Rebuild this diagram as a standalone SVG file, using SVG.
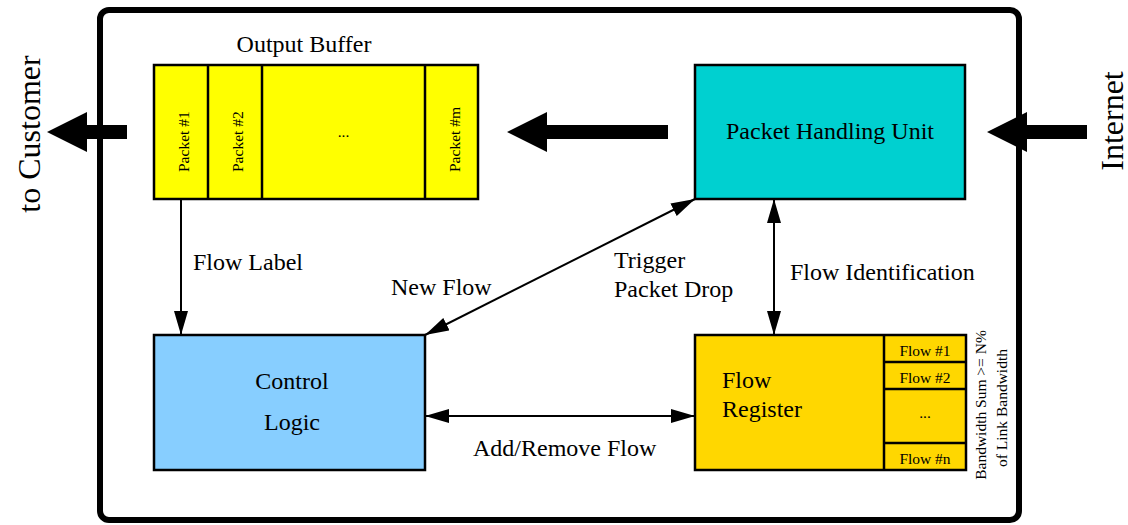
<svg xmlns="http://www.w3.org/2000/svg" width="1128" height="525" viewBox="0 0 1128 525">
  <style>
    text { font-family: "Liberation Serif", "Times New Roman", serif; fill: #000; }
    .lbl { font-size: 24px; }
    .sm { font-size: 15.5px; }
    .big { font-size: 32px; }
    .box { stroke: #000; stroke-width: 2.5; }
    .div { stroke: #000; stroke-width: 2.5; fill: none; }
    .conn { stroke: #000; stroke-width: 2; fill: none; }
  </style>
  <defs>
    <marker id="head" viewBox="0 0 24 14" refX="24" refY="7" markerWidth="24" markerHeight="14" markerUnits="userSpaceOnUse" orient="auto-start-reverse">
      <path d="M0,0 L24,7 L0,14 z" fill="#000"/>
    </marker>
  </defs>

  <rect width="1128" height="525" fill="#fff"/>

  <!-- system boundary -->
  <rect id="boundary" x="100" y="10" width="919" height="510" rx="9" fill="none" stroke="#000" stroke-width="6"/>

  <!-- thick data-path arrows -->
  <g id="data-path" fill="#000">
    <polygon points="127,125 87,125 87,112 47,132 87,152 87,139 127,139"/>
    <polygon points="668,125 547,125 547,112 507,132 547,152 547,139 668,139"/>
    <polygon points="1087,125 1027,125 1027,112 987,132 1027,152 1027,139 1087,139"/>
  </g>

  <text class="big" transform="translate(40,134) rotate(-90)" text-anchor="middle">to Customer</text>
  <text class="big" transform="translate(1123,121) rotate(-90)" text-anchor="middle">Internet</text>

  <!-- output buffer -->
  <g id="output-buffer">
    <text class="lbl" x="304" y="52" text-anchor="middle">Output Buffer</text>
    <rect class="box" x="154" y="65" width="324" height="134" fill="#ffff00"/>
    <line class="div" x1="208" y1="65" x2="208" y2="199"/>
    <line class="div" x1="262" y1="65" x2="262" y2="199"/>
    <line class="div" x1="425" y1="65" x2="425" y2="199"/>
    <text class="sm" transform="translate(189,172) rotate(-90)">Packet #1</text>
    <text class="sm" transform="translate(243,172) rotate(-90)">Packet #2</text>
    <text class="sm" transform="translate(460,172) rotate(-90)">Packet #m</text>
    <text class="sm" x="343.5" y="137" text-anchor="middle" font-size="18">...</text>
  </g>

  <!-- packet handling unit -->
  <g id="packet-handling-unit">
    <rect class="box" x="695" y="65" width="270" height="134" fill="#00d0d0"/>
    <text class="lbl" x="830" y="139" text-anchor="middle">Packet Handling Unit</text>
  </g>

  <!-- control logic -->
  <g id="control-logic">
    <rect class="box" x="154" y="335" width="271" height="135" fill="#87ceff"/>
    <text class="lbl" x="292" y="389" text-anchor="middle">Control</text>
    <text class="lbl" x="292" y="430" text-anchor="middle">Logic</text>
  </g>

  <!-- flow register -->
  <g id="flow-register">
    <rect class="box" x="695" y="335" width="271" height="135" fill="#ffd700"/>
    <line class="div" x1="884" y1="335" x2="884" y2="470"/>
    <line class="div" x1="884" y1="362" x2="966" y2="362"/>
    <line class="div" x1="884" y1="389" x2="966" y2="389"/>
    <line class="div" x1="884" y1="443" x2="966" y2="443"/>
    <text class="lbl" x="722" y="388">Flow</text>
    <text class="lbl" x="722" y="417">Register</text>
    <text class="sm" x="925" y="356" text-anchor="middle">Flow #1</text>
    <text class="sm" x="925" y="383" text-anchor="middle">Flow #2</text>
    <text class="sm" x="925" y="418" text-anchor="middle">...</text>
    <text class="sm" x="925" y="464" text-anchor="middle">Flow #n</text>
    <text class="sm" transform="translate(986,405) rotate(-90)" text-anchor="middle">Bandwidth Sum &gt;= N%</text>
    <text class="sm" transform="translate(1006.5,408) rotate(-90)" text-anchor="middle">of Link Bandwidth</text>
  </g>

  <!-- connectors -->
  <g id="connectors">
    <line class="conn" x1="181" y1="199" x2="181" y2="335" marker-end="url(#head)"/>
    <line class="conn" x1="695" y1="199" x2="425" y2="335" marker-start="url(#head)" marker-end="url(#head)"/>
    <line class="conn" x1="774" y1="199" x2="774" y2="335" marker-start="url(#head)" marker-end="url(#head)"/>
    <line class="conn" x1="425" y1="416" x2="695" y2="416" marker-start="url(#head)" marker-end="url(#head)"/>
  </g>

  <g id="connector-labels">
    <text class="lbl" x="193" y="270">Flow Label</text>
    <text class="lbl" x="391" y="295">New Flow</text>
    <text class="lbl" x="614" y="268">Trigger</text>
    <text class="lbl" x="614" y="297">Packet Drop</text>
    <text class="lbl" x="790" y="280">Flow Identification</text>
    <text class="lbl" x="473" y="456">Add/Remove Flow</text>
  </g>
</svg>
